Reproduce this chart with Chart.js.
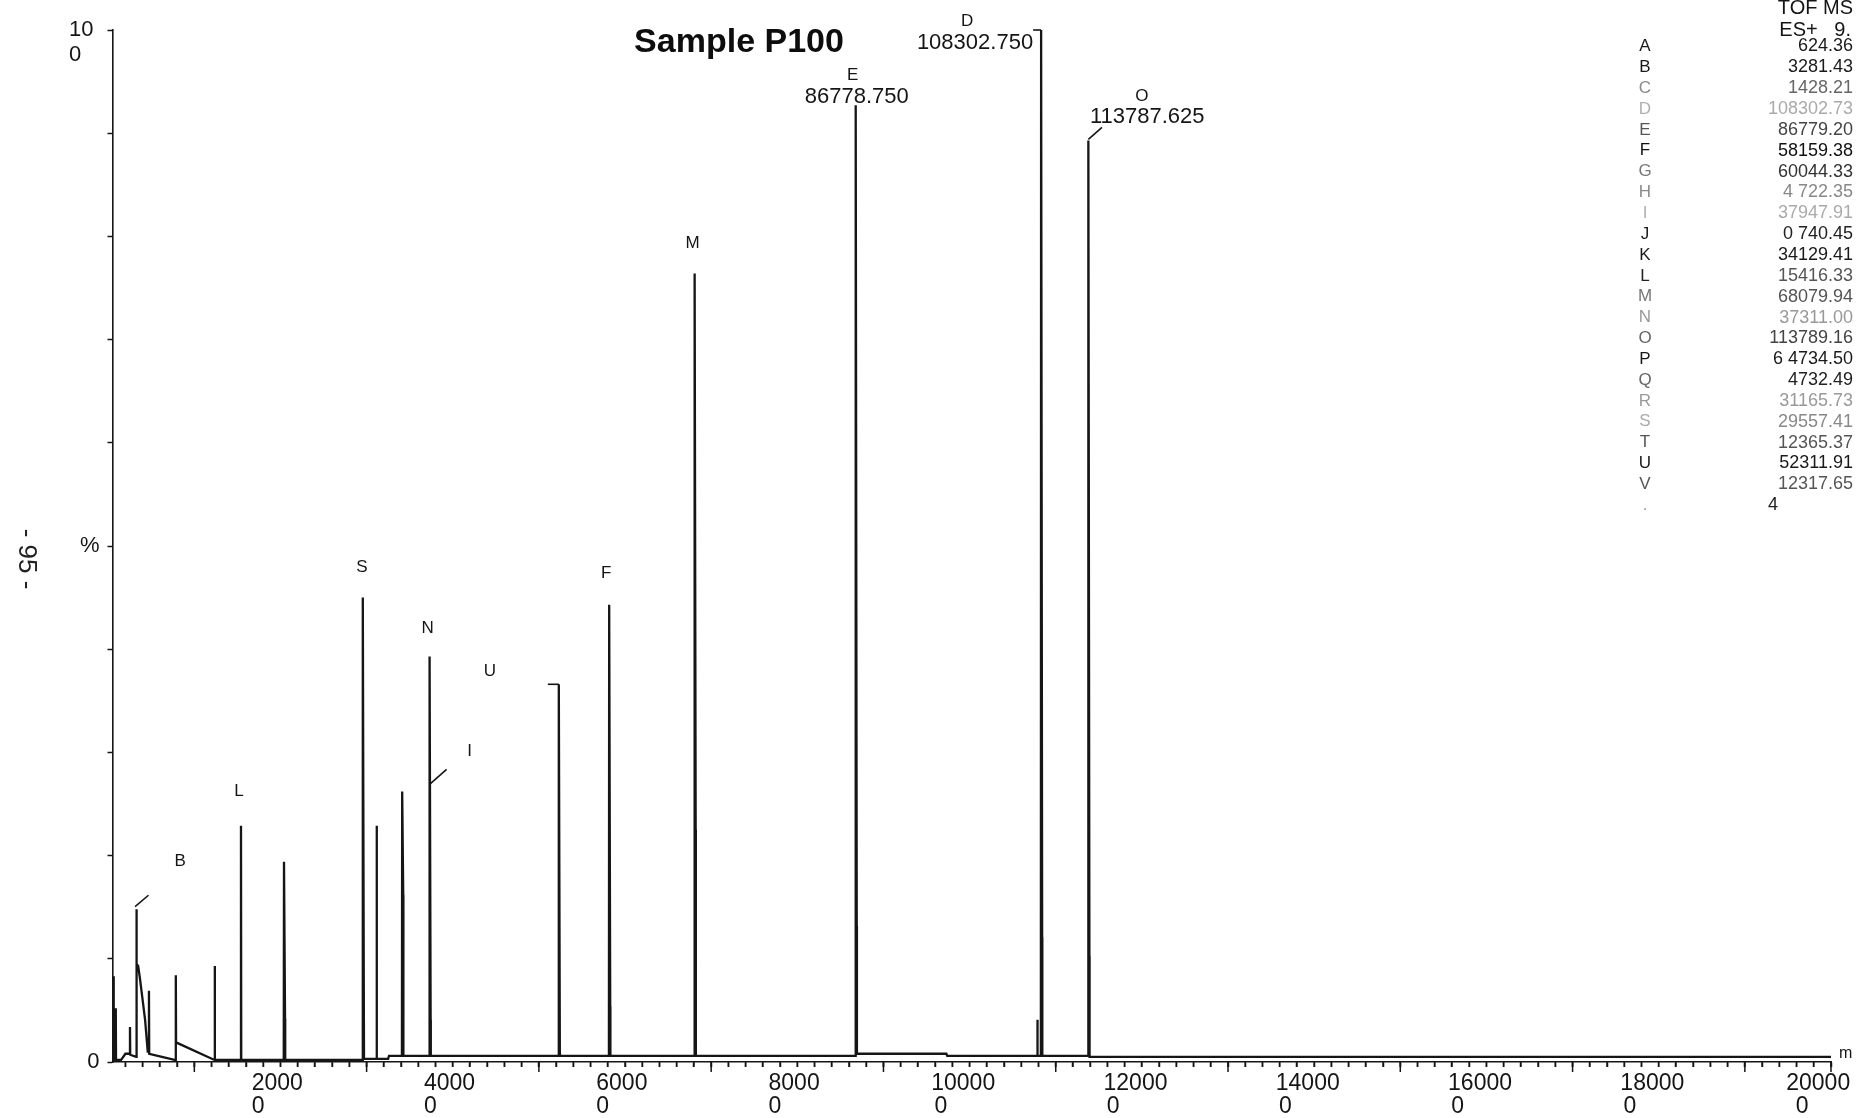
<!DOCTYPE html>
<html>
<head>
<meta charset="utf-8">
<title>Sample P100</title>
<script src="https://cdn.jsdelivr.net/npm/chart.js@4.4.1/dist/chart.umd.min.js"></script>
<style>
  html, body { margin: 0; padding: 0; background: #ffffff; }
  #wrap { width: 1857px; height: 1118px; position: relative; }
  canvas { display: block; }
</style>
</head>
<body>
<div id="wrap"><canvas id="spectrum" width="1857" height="1118"></canvas></div>
<script>
// ---- Deconvoluted TOF MS ES+ spectrum, Sample P100 ----

// Sticks of the spectrum: mass (Da), apex intensity (%), height of the
// heavier foot drawn beside the stick (0 = none), baseline either side.
const stickMass  = [624.36, 880, 2530, 3281.43, 4732.49, 7850, 12365.37, 15416.33, 20410, 29557.41,
                    31165.73, 34129.41, 37311.00, 52311.91, 58159.38, 68079.94, 86778.75, 107870,
                    108302.75, 113787.625];
const stickTop   = [8.3, 5.2, 3.4, 14.8, 6.9, 8.4, 9.3, 22.9, 19.4, 45.0,
                    22.9, 26.2, 39.3, 36.6, 44.3, 76.4, 92.7, 4.1,
                    100, 89.3];
const stickFoot  = [0, 0, 0, 0, 0, 0, 0, 0, 4.2, 5.4,
                    0, 16.2, 4.1, 1.0, 5.4, 22.5, 13.2, 0,
                    12.1, 10.3];
const baseBefore = [0.2, 0.3, 0.8, 0.5, 1.0, 0.2, 0.2, 0.2, 0.2, 0.2,
                    0.3, 0.6, 0.6, 0.6, 0.6, 0.6, 0.6, 0.6,
                    0.6, 0.6];
const baseAfter  = [0.3, 0.2, 0.7, 9.5, 0.8, 1.9, 0.2, 0.2, 0.2, 0.3,
                    0.3, 0.6, 0.6, 0.6, 0.6, 0.6, 0.8, 0.6,
                    0.6, 0.5];

// Baseline and tail points between the sticks
const baseMass  = [500, 1500, 2000, 3480, 3700, 4280, 4590, 7700, 32500, 32600, 97300, 97400, 200000];
const baseLevel = [0.2, 0.2, 0.8, 9.3, 8.0, 4.1, 1.0, 0.2, 0.3, 0.6, 0.8, 0.6, 0.5];

// Lettered peaks: letter, stick index, level of the marker on the stick (null = apex)
const peakLetter = ['B', 'L', 'S', 'N', 'I', 'U', 'F', 'M', 'E', 'D', 'O'];
const peakStick  = [3, 7, 9, 12, 12, 13, 14, 15, 16, 18, 19];
const peakLevel  = [null, null, null, null, 26.9, null, null, null, null, null, null];
const massShown  = ['E', 'D', 'O'];   // peaks annotated with their mass

// Peak list printed at the right
const listHeader = ['TOF MS', 'ES+   9.'];
const listLetter = ['A','B','C','D','E','F','G','H','I','J','K','L','M','N','O','P','Q','R','S','T','U','V','.'];
const listValue  = ['624.36','3281.43','1428.21','108302.73','86779.20','58159.38','60044.33','4 722.35',
                    '37947.91','0 740.45','34129.41','15416.33','68079.94','37311.00','113789.16','6 4734.50',
                    '4732.49','31165.73','29557.41','12365.37','52311.91','12317.65','4'];

// Axis ticks
const xRange = [500, 200000];
const xTickValues = Array.from({ length: 100 }, (_, i) => (i + 1) * 2000);
const xLongTicks = [10000, 30000, 50000, 70000, 90000, 110000, 130000, 150000, 170000, 190000, 200000];
const yTickValues = [0, 10, 20, 30, 40, 50, 60, 70, 80, 90, 100];

// ---- styles ----
const INK = '#151515';
const FONT = '"Liberation Sans", Arial, Helvetica, sans-serif';

const listLetterColor = ['#1a1a1a','#1a1a1a','#8a8a8a','#b0b0b0','#555','#111','#777','#8a8a8a','#b0b0b0',
                         '#1a1a1a','#1a1a1a','#222','#777','#999','#666','#1a1a1a','#666','#9a9a9a','#aaa',
                         '#555','#1a1a1a','#555','#999'];
const listValueColor  = ['#1a1a1a','#1a1a1a','#666','#aaa','#444','#111','#333','#888','#aaa',
                         '#222','#1a1a1a','#555','#555','#999','#444','#1a1a1a','#222','#999','#888',
                         '#555','#1a1a1a','#555','#222'];

// Label placement relative to the marker point on the stick (pixels)
const labelLayout = {
  B: { dx: 43.6, dy: -47.6, leader: [-1.4, -2.6, 12, -14] },
  L: { dx: -2, dy: -34 },
  S: { dx: -1, dy: -30 },
  N: { dx: -2, dy: -28.5 },
  I: { dx: 40, dy: -33, leader: [0, 0, 17, -15] },
  U: { dx: -69, dy: -13, leader: [-11, 0, 0, 0] },
  F: { dx: -3, dy: -32 },
  M: { dx: -2, dy: -30 },
  E: { dx: -3, dy: -30, num: { dx: 1, dy: -8.5, align: 'center' } },
  D: { dx: -74, dy: -8.3, num: { dx: -8, dy: 12.7, align: 'right' }, leader: [-8, 0, 0, 0] },
  O: { dx: 53.6, dy: -44.3, num: { dx: 1.6, dy: -23, align: 'left' }, leader: [0, -1, 13.6, -13] }
};

// ---- build the trace from sticks and baseline points ----
function buildTrace() {
  const pts = [];
  stickMass.forEach((m, i) => {
    pts.push({ x: m - 30, y: baseBefore[i] });
    pts.push({ x: m, y: stickTop[i] });
    if (stickFoot[i] > 0) {
      pts.push({ x: m + 120, y: stickFoot[i] });
      pts.push({ x: m + 140, y: baseAfter[i] });
    } else {
      pts.push({ x: m + 30, y: baseAfter[i] });
    }
  });
  baseMass.forEach((m, i) => pts.push({ x: m, y: baseLevel[i] }));
  pts.sort((a, b) => a.x - b.x);
  return pts;
}

// x tick labels print the mass with its final digit on a second line
function xLabel(v) {
  if (v % 20000 !== 0) return '';
  const s = String(v);
  const head = s.slice(0, -1);
  if (v === xRange[1]) return [head + '    ', '0' + ' '.repeat(9)];
  if (head.length >= 5) return [head + '  ', '0' + ' '.repeat(9)];
  return [head + ' ', '0' + ' '.repeat(7)];
}

function yLabel(v) {
  if (v === 100) return ['', '10 ', '0   '];
  if (v === 50) return '%';
  if (v === 0) return '0';
  return '';
}

const decorations = {
  id: 'decorations',
  afterDraw(chart) {
    const { ctx, chartArea } = chart;
    const xs = chart.scales.x, ys = chart.scales.y;
    ctx.save();
    ctx.strokeStyle = INK;
    ctx.fillStyle = INK;

    // tick marks on the mass axis: short every 2000, longer every 10000
    ctx.lineWidth = 1.5;
    xTickValues.forEach(v => {
      const px = xs.getPixelForValue(v);
      ctx.beginPath();
      ctx.moveTo(px, chartArea.bottom);
      ctx.lineTo(px, chartArea.bottom + 5);
      ctx.stroke();
    });
    xLongTicks.forEach(v => {
      const px = xs.getPixelForValue(v);
      ctx.beginPath();
      ctx.moveTo(px, chartArea.bottom);
      ctx.lineTo(px, chartArea.bottom + 10);
      ctx.stroke();
    });

    // peak letters, masses and leaders
    peakLetter.forEach((letter, k) => {
      const i = peakStick[k];
      const lay = labelLayout[letter];
      const px = xs.getPixelForValue(stickMass[i]);
      const py = ys.getPixelForValue(peakLevel[k] === null ? stickTop[i] : peakLevel[k]);
      ctx.font = '17px ' + FONT;
      ctx.textAlign = 'center';
      ctx.textBaseline = 'middle';
      ctx.fillText(letter, px + lay.dx, py + lay.dy);
      if (lay.leader) {
        const [x1, y1, x2, y2] = lay.leader;
        ctx.lineWidth = 1.6;
        ctx.beginPath();
        ctx.moveTo(px + x1, py + y1);
        ctx.lineTo(px + x2, py + y2);
        ctx.stroke();
      }
      if (massShown.includes(letter)) {
        ctx.font = '22px ' + FONT;
        ctx.textAlign = lay.num.align;
        ctx.fillText(stickMass[i].toFixed(3), px + lay.num.dx, py + lay.num.dy);
      }
    });

    // title
    ctx.font = 'bold 34px ' + FONT;
    ctx.textAlign = 'center';
    ctx.textBaseline = 'alphabetic';
    ctx.fillStyle = '#0d0d0d';
    ctx.fillText('Sample P100', 739, 52);

    // axis end mark
    ctx.font = '16px ' + FONT;
    ctx.fillStyle = INK;
    ctx.textAlign = 'left';
    ctx.textBaseline = 'middle';
    ctx.fillText('m', xs.getPixelForValue(xRange[1]) + 8, chartArea.bottom - 8);

    // peak list
    ctx.font = '20px ' + FONT;
    ctx.textAlign = 'right';
    ctx.textBaseline = 'alphabetic';
    ctx.fillText(listHeader[0], 1853, 14);
    ctx.fillText(listHeader[1], 1851, 36);
    const rowTop = 46.5, rowStep = 20.85;
    listLetter.forEach((l, r) => {
      const yy = rowTop + r * rowStep;
      ctx.textBaseline = 'middle';
      ctx.font = '17px ' + FONT;
      ctx.textAlign = 'center';
      ctx.fillStyle = listLetterColor[r];
      ctx.fillText(l, 1645, yy);
      ctx.font = '18px ' + FONT;
      ctx.fillStyle = listValueColor[r];
      if (l === '.') {
        ctx.textAlign = 'left';
        ctx.fillText(listValue[r], 1768, yy);
      } else {
        ctx.textAlign = 'right';
        ctx.fillText(listValue[r], 1853, yy);
      }
    });

    // page number on the left margin
    ctx.save();
    ctx.translate(26, 559);
    ctx.rotate(Math.PI / 2);
    ctx.font = '26px ' + FONT;
    ctx.fillStyle = '#222';
    ctx.textAlign = 'center';
    ctx.textBaseline = 'middle';
    ctx.fillText('- 95 -', 0, 0);
    ctx.restore();

    ctx.restore();
  }
};

new Chart(document.getElementById('spectrum'), {
  type: 'line',
  data: {
    datasets: [{
      data: buildTrace(),
      borderColor: INK,
      borderWidth: 2.3,
      pointRadius: 0,
      tension: 0,
      fill: false,
      clip: false
    }]
  },
  options: {
    responsive: false,
    animation: false,
    events: [],
    layout: { padding: { top: 30, right: 26, left: 0, bottom: 0 } },
    plugins: { legend: { display: false }, tooltip: { enabled: false }, title: { display: false } },
    scales: {
      x: {
        type: 'linear',
        position: 'bottom',
        min: xRange[0],
        max: xRange[1],
        afterBuildTicks: s => { s.ticks = xTickValues.map(v => ({ value: v })); },
        afterFit: s => { s.height = 56; s.paddingLeft = 0; s.paddingRight = 0; },
        grid: { display: true, drawOnChartArea: false, drawTicks: true, tickLength: 5, tickColor: INK, tickWidth: 1.5 },
        border: { display: true, color: INK, width: 1.6 },
        ticks: {
          autoSkip: false, maxRotation: 0, minRotation: 0, padding: 5, color: INK,
          font: { family: FONT, size: 23, lineHeight: 1 },
          callback: v => xLabel(v)
        }
      },
      y: {
        type: 'linear',
        position: 'left',
        min: 0,
        max: 100,
        afterBuildTicks: s => { s.ticks = yTickValues.map(v => ({ value: v })); },
        afterFit: s => { s.width = 112.5; s.paddingTop = 0; s.paddingBottom = 0; },
        grid: { display: true, drawOnChartArea: false, drawTicks: true, tickLength: 5, tickColor: INK, tickWidth: 1.5 },
        border: { display: true, color: INK, width: 1.6 },
        ticks: {
          autoSkip: false, padding: 8, color: INK,
          font: { family: FONT, size: 22, lineHeight: 1.15 },
          callback: v => yLabel(v)
        }
      }
    }
  },
  plugins: [decorations]
});
</script>
</body>
</html>
